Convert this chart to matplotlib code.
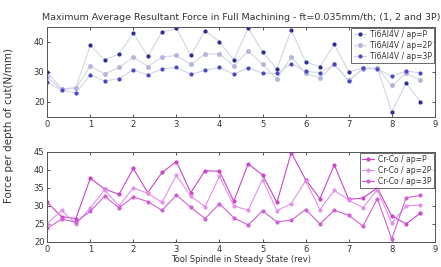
import numpy as np
import matplotlib
matplotlib.use('Agg')
import matplotlib.pyplot as plt

# vueltas del husillo: 0, 1/3, 2/3, ... 26/3
rev = np.arange(27) / 3.0

ti_p = [30, 24.3, 24.8, 38.9, 34, 36, 43, 35.3, 43.3, 44.5, 35.5, 43.8, 40, 34,
        44.6, 36.7, 31, 44, 33.3, 31.8, 39.2, 30, 31.3, 31.3, 16.7, 26.3, 20]
ti_2p = [28.3, 24.2, 24.5, 32, 29.3, 31.5, 35, 31.8, 35, 35.5, 32.5, 36, 36, 32,
         37, 32.6, 27.8, 35, 29.5, 28, 32.5, 27.3, 31, 31.3, 25.5, 29.5, 27.3]
ti_3p = [26.5, 24, 23, 29, 27, 27.8, 30.7, 29, 31, 31.5, 29.2, 30.5, 31.5, 29.2,
         31.4, 29.6, 29.5, 32.8, 30.2, 29.8, 32.5, 27, 31.2, 31, 28.5, 30.3, 29.7]

cr_p = [31, 27, 26.5, 37.7, 34.7, 33.2, 40.4, 33.7, 39.3, 42.3, 33.7, 39.8, 39.6, 31.3,
        41.7, 38.6, 31, 44.8, 37.3, 32, 41.4, 31.8, 32.2, 35, 27.2, 25, 28]
cr_2p = [25, 28.8, 25, 29.4, 34.5, 30, 35, 33.5, 31, 38.5, 32.7, 29.8, 38.2, 30,
         28.8, 37.3, 28.7, 30.6, 37, 29, 34.3, 31.6, 29.5, 34.5, 25.2, 30, 30.2]
cr_3p = [23.8, 26.3, 25.5, 28.5, 32.7, 29.5, 32.5, 31.2, 28.8, 33, 29.6, 26.5, 30.6, 26.7,
         24.7, 28.6, 25.6, 26, 29, 25, 28.8, 27.4, 24.4, 32, 20.8, 32.3, 32.9]

txt = '#333333'
fig = plt.figure(figsize=(4.41, 2.67), dpi=100)
ax1 = fig.add_axes([0.107, 0.562, 0.879, 0.337])
ax2 = fig.add_axes([0.107, 0.094, 0.879, 0.337])

linea = '#d4d4e4'
ax1.plot(rev, ti_p, '.', ls='-', lw=0.8, color=linea, ms=4, mfc='#2a2a9a', mec='#2a2a9a', label='Ti6Al4V / ap=P')
ax1.plot(rev, ti_2p, '.', ls='-', lw=0.8, color=linea, ms=5, mfc='#b4b4dc', mec='#b4b4dc', label='Ti6Al4V / ap=2P')
ax1.plot(rev, ti_3p, '.', ls='-', lw=0.8, color=linea, ms=4, mfc='#4848c8', mec='#4848c8', label='Ti6Al4V / ap=3P')

ax2.plot(rev, cr_p, '.-', color='#cc44cc', lw=0.8, ms=4, label='Cr-Co / ap=P')
ax2.plot(rev, cr_2p, '.-', color='#e290ea', lw=0.8, ms=4, label='Cr-Co / ap=2P')
ax2.plot(rev, cr_3p, '.-', color='#d060d4', lw=0.8, ms=4, label='Cr-Co / ap=3P')

for ax in (ax1, ax2):
    ax.set_xlim(0, 9)
    ax.set_xticks(range(10))
    ax.tick_params(direction='in', length=2.5, width=0.6, labelsize=6, colors=txt,
                   top=True, right=True, pad=2)
    for s in ax.spines.values():
        s.set_color('#555555')
        s.set_linewidth(0.7)
    leg = ax.legend(loc='upper right', fontsize=5.5, frameon=True, fancybox=False,
                    borderpad=0.3, labelspacing=0.25, handlelength=1.6, handletextpad=0.5,
                    borderaxespad=0.1)
    leg.get_frame().set_edgecolor('#444444')
    leg.get_frame().set_linewidth(0.7)
    for t in leg.get_texts():
        t.set_color(txt)

ax1.set_ylim(15, 45)
ax1.set_yticks([20, 30, 40])
ax2.set_ylim(20, 45)
ax2.set_yticks([20, 25, 30, 35, 40, 45])

ax1.set_title('Maximum Average Resultant Force in Full Machining - ft=0.035mm/th; (1, 2 and 3P)',
              fontsize=6.8, color=txt, pad=5)
ax2.set_xlabel('Tool Spindle in Steady State (rev)', fontsize=6, color=txt, labelpad=1)
fig.text(0.02, 0.53, 'Force per depth of cut(N/mm)', rotation=90, fontsize=7.5,
         color=txt, ha='center', va='center')

fig.savefig('out.png', dpi=100)
